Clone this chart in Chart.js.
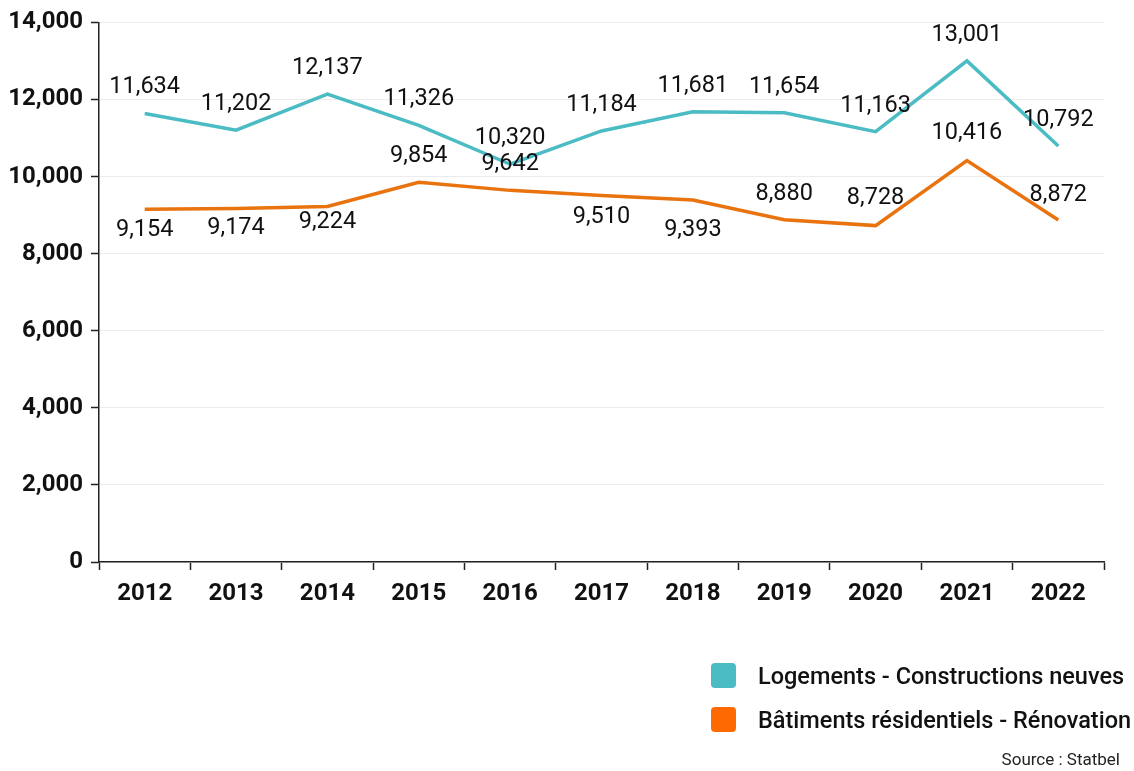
<!DOCTYPE html>
<html>
<head>
<meta charset="utf-8">
<script src="https://cdn.jsdelivr.net/npm/chart.js@4/dist/chart.umd.min.js"></script>
<style>
    html, body { margin: 0; padding: 0; background: #fff; }
    #wrap { position: relative; width: 1134px; height: 771px; font-family: Roboto, "Noto Sans", sans-serif; }
    #legend { position: absolute; left: 711px; top: 663px; }
    .item { display: flex; align-items: center; height: 25px; margin-bottom: 19px; }
    .box { width: 25px; height: 25px; border-radius: 4px; margin-right: 22px; }
    .label { font-size: 23.5px; font-weight: 500; color: #111; white-space: nowrap; }
    #source { position: absolute; right: 14px; top: 749px; font-size: 17px; color: #222; }
</style>
</head>
<body>
<div id="wrap">
    <canvas id="lineChart" width="1134" height="771"></canvas>
    <div id="legend"></div>
    <div id="source">Source : Statbel</div>
</div>
<script>
const years = ['2012', '2013', '2014', '2015', '2016', '2017', '2018', '2019', '2020', '2021', '2022'];
const newBuildings = [11634, 11202, 12137, 11326, 10320, 11184, 11681, 11654, 11163, 13001, 10792];
const renovations = [9154, 9174, 9224, 9854, 9642, 9510, 9393, 8880, 8728, 10416, 8872];

// vertical shift of each value label from its point (negative = above)
const newBuildingsLabelShift = [-26, -26, -26, -26, -26, -26, -26, -26, -26, -26, -26];
const renovationsLabelShift = [21, 20, 16, -26, -26, 22, 30, -26, -27, -27, -25];

const fmt = v => v.toLocaleString('en-US');

// draws the numbers next to the points
const valueLabels = {
    id: 'valueLabels',
    afterDatasetsDraw(chart) {
        const ctx = chart.ctx;
        ctx.save();
        ctx.font = '23.5px Roboto';
        ctx.fillStyle = '#111';
        ctx.textAlign = 'center';
        ctx.textBaseline = 'middle';
        chart.data.datasets.forEach((ds, i) => {
            const meta = chart.getDatasetMeta(i);
            meta.data.forEach((pt, j) => {
                ctx.fillText(fmt(ds.data[j]), pt.x, pt.y + ds.labelShift[j]);
            });
        });
        ctx.restore();
    }
};

const ctx = document.getElementById('lineChart').getContext('2d');
const chart = new Chart(ctx, {
    type: 'line',
    data: {
        labels: years,
        datasets: [{
            label: 'Logements - Constructions neuves',
            data: newBuildings,
            labelShift: newBuildingsLabelShift,
            borderColor: '#4bbcc3',
            backgroundColor: '#4bbcc3',
            borderWidth: 3.5,
            pointRadius: 0,
            tension: 0,
            fill: false
        }, {
            label: 'Bâtiments résidentiels - Rénovation',
            data: renovations,
            labelShift: renovationsLabelShift,
            borderColor: '#e8730f',
            backgroundColor: '#ff6a00',
            borderWidth: 3.5,
            pointRadius: 0,
            tension: 0,
            fill: false
        }]
    },
    options: {
        responsive: false,
        animation: false,
        locale: 'en-US',
        layout: {
            padding: { top: 3, right: 30, bottom: 159, left: 10 }
        },
        plugins: {
            legend: { display: false },
            tooltip: { enabled: false }
        },
        scales: {
            x: {
                offset: true,
                afterFit: scale => { scale.height = 50; },
                grid: {
                    offset: true,
                    drawOnChartArea: false,
                    tickLength: 8,
                    tickColor: '#222',
                    tickWidth: 1.5
                },
                border: { color: '#222', width: 1.5 },
                ticks: {
                    font: { family: 'Roboto', size: 24, weight: 'bold' },
                    color: '#111',
                    padding: 10
                }
            },
            y: {
                min: 0,
                max: 14000,
                afterFit: scale => { scale.width = 89; },
                grid: {
                    color: '#ececec',
                    tickLength: 8,
                    tickColor: '#222',
                    tickWidth: 1.5
                },
                border: { color: '#222', width: 1.5 },
                ticks: {
                    stepSize: 2000,
                    font: { family: 'Roboto', size: 24, weight: 'bold' },
                    color: '#111',
                    padding: 8,
                    callback: v => fmt(v)
                }
            }
        }
    },
    plugins: [valueLabels]
});

// html legend, stacked like the original
const legend = document.getElementById('legend');
chart.data.datasets.forEach(ds => {
    const item = document.createElement('div');
    item.className = 'item';
    const box = document.createElement('div');
    box.className = 'box';
    box.style.background = ds.backgroundColor;
    const txt = document.createElement('span');
    txt.className = 'label';
    txt.textContent = ds.label;
    item.appendChild(box);
    item.appendChild(txt);
    legend.appendChild(item);
});
</script>
</body>
</html>
